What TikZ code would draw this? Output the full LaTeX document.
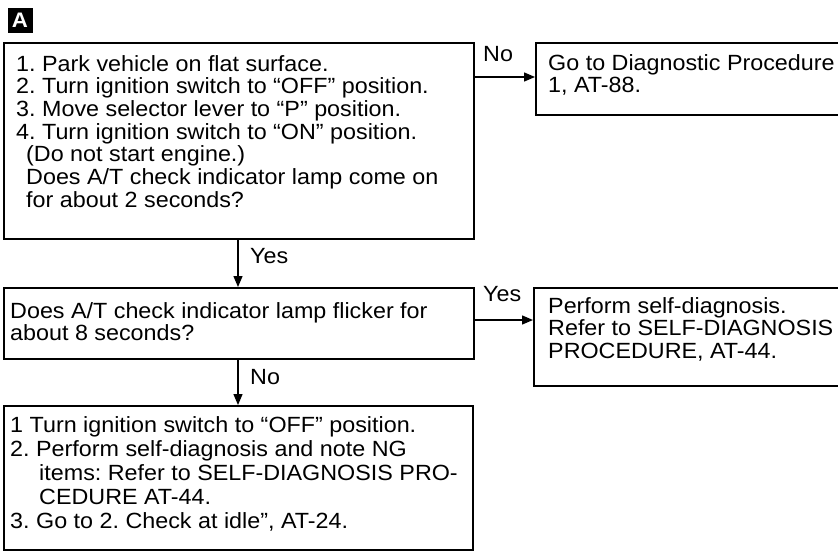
\documentclass[tikz,border=0pt]{standalone}
\usepackage{fontspec}
\setmainfont{Liberation Sans}[FakeStretch=1.06]
\usetikzlibrary{arrows.meta}
\frenchspacing
\newcommand\boxlines[1]{\begin{tabular}[t]{@{}l@{}}#1\end{tabular}}
\begin{document}
\begin{tikzpicture}[x=1pt,y=-1pt,
  box/.style={draw, line width=1.6pt, anchor=north west, inner sep=0pt, rectangle},
  txt/.style={anchor=base west, inner sep=0pt, font=\fontsize{22}{22.5}\selectfont\frenchspacing},
  arr/.style={line width=1.4pt, -{Triangle[length=11pt,width=9pt]}},
  lbl/.style={anchor=base west, inner sep=0pt, font=\fontsize{22}{22.5}\selectfont}]
\useasboundingbox (0,0) rectangle (838,550);
% tag
\node[fill=black, text=white, font=\bfseries\fontsize{21}{21}\selectfont, minimum size=25pt, inner sep=0pt] (tag) at (20,20) {A};
% boxes
\node[box, minimum width=470pt, minimum height=196pt] (b1) at (3,42) {};
\node[box, minimum width=312pt, minimum height=72pt] (b2) at (535,42) {};
\node[box, minimum width=470pt, minimum height=71pt] (b3) at (3,287) {};
\node[box, minimum width=314pt, minimum height=98pt] (b4) at (533,287) {};
\node[box, minimum width=469pt, minimum height=144pt] (b5) at (3,405) {};
% texts
\node[txt] (t1) at (16,71) {\boxlines{1. Park vehicle on flat surface.\\
2. Turn ignition switch to “OFF” position.\\
3. Move selector lever to “P” position.\\
4. Turn ignition switch to “ON” position.\\
\hspace*{10pt}(Do not start engine.)\\
\hspace*{10pt}Does A/T check indicator lamp come on\\
\hspace*{10pt}for about 2 seconds?}};
\node[txt] (t2) at (548,70) {\boxlines{Go to Diagnostic Procedure\\
1, AT-88.}};
\node[txt] (t3) at (10,318) {\boxlines{Does A/T check indicator lamp flicker for\\
about 8 seconds?}};
\node[txt] (t4) at (548,313) {\boxlines{Perform self-diagnosis.\\
Refer to SELF-DIAGNOSIS\\
PROCEDURE, AT-44.}};
\node[txt, font=\fontsize{22}{24}\selectfont\frenchspacing] (t5) at (10,432) {\boxlines{1 Turn ignition switch to “OFF” position.\\
2. Perform self-diagnosis and note NG\\
\hspace*{29pt}items: Refer to SELF-DIAGNOSIS PRO-\\
\hspace*{29pt}CEDURE AT-44.\\
3. Go to 2. Check at idle”, AT-24.}};
% connectors
\draw[arr] (b1.east |- 0,77) -- (b2.west |- 0,77);
\draw[arr] (b3.east |- 0,320) -- (b4.west |- 0,320);
\draw[arr] (b1.south -| 238,0) -- (b3.north -| 238,0);
\draw[arr] (b3.south -| 238,0) -- (b5.north -| 238,0);
% labels
\node[lbl] (l1) at (483,61) {No};
\node[lbl] (l2) at (250,263) {Yes};
\node[lbl] (l3) at (483,301) {Yes};
\node[lbl] (l4) at (250,384) {No};
\end{tikzpicture}
\end{document}
